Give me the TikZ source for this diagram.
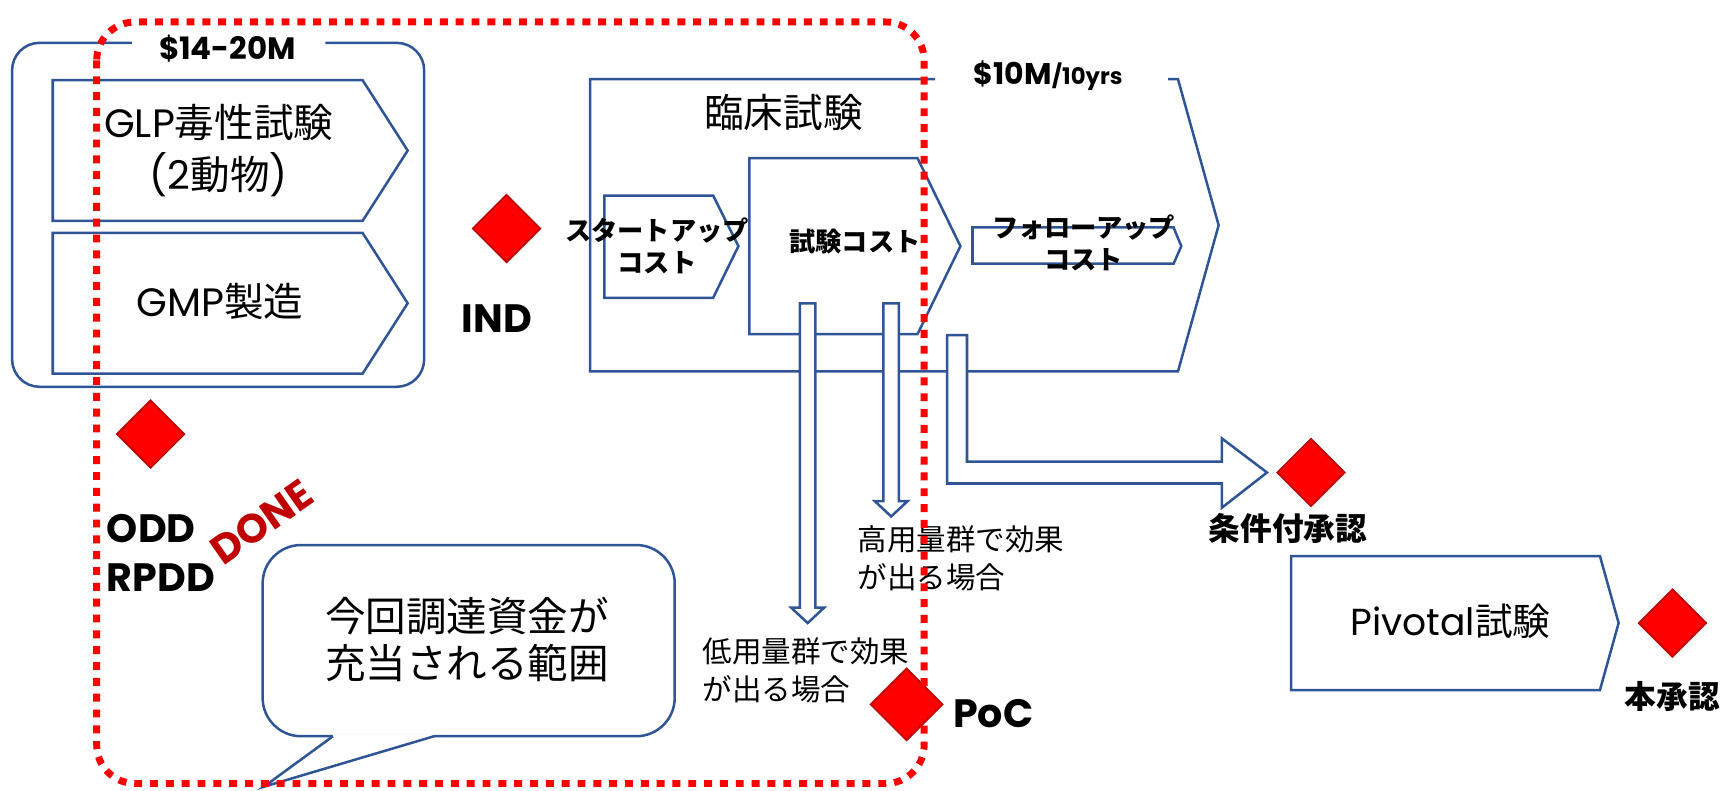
\documentclass[tikz,border=0pt]{standalone}
\usepackage{fontspec}
\newfontfamily\jp{Noto Sans CJK JP}
\newfontfamily\pop{Poppins}
\usetikzlibrary{shapes.geometric}
\definecolor{bl}{HTML}{2F5597}
\definecolor{dred}{HTML}{C00000}
\tikzset{
  blueline/.style={draw=bl, line width=1.3pt, line join=miter},
  hollow/.style={draw=bl, line width=1.3pt, fill=white, line join=miter},
  milestone/.style={diamond, fill=red, draw=dred, line width=0.9pt, minimum width=1.24cm, minimum height=1.24cm, inner sep=0pt},
  reddot/.style={draw=red, line width=3.6pt, dash pattern=on 4.1pt off 4.1pt},
  bigtxt/.style={inner sep=0pt, font={\jp\fontsize{20.5pt}{25pt}\selectfont}, align=center},
  smallbold/.style={inner sep=0pt, font={\jp\bfseries\fontsize{13.6pt}{16.4pt}\selectfont}, align=center},
  latbold/.style={inner sep=0pt, font={\pop\bfseries\fontsize{20.5pt}{25.5pt}\selectfont}, align=left},
  note/.style={inner sep=0pt, font={\jp\fontsize{15.3pt}{19.3pt}\selectfont}, align=left},
  approval/.style={inner sep=0pt, font={\jp\bfseries\fontsize{16.4pt}{19pt}\selectfont}}
}
\begin{document}
\begin{tikzpicture}[x=0.02cm, y=-0.02cm]
\useasboundingbox (0,0) rectangle (1568,719);

% outer preclinical box with gap for label
\draw[blueline, rounded corners=0.5cm] (120,39) -- (11,39) -- (11,352) -- (386,352) -- (386,39) -- (296,39);
% GLP / GMP pentagons
\draw[blueline] (48,73) -- (330,73) -- (371,137) -- (330,201) -- (48,201) -- cycle;
\draw[blueline] (48,212) -- (330,212) -- (371,276) -- (330,340) -- (48,340) -- cycle;

% clinical trial big pentagon (gap for label)
\draw[blueline] (851,72) -- (537,72) -- (537,338) -- (1072,338) -- (1109,205) -- (1072,72) -- (1063,72);
% startup, test cost, follow-up
\draw[blueline] (550,178) -- (649,178) -- (672,224) -- (649,271) -- (550,271) -- cycle;
\draw[blueline] (682,144) -- (835,144) -- (874,224) -- (835,304) -- (682,304) -- cycle;
\draw[blueline] (885,207) -- (1068,207) -- (1075,224) -- (1068,240) -- (885,240) -- cycle;
% pivotal
\draw[blueline] (1175,506) -- (1456,506) -- (1473,567) -- (1456,628) -- (1175,628) -- cycle;

% block arrows
\draw[hollow] (728,276) -- (742,276) -- (742,553) -- (750,553) -- (735,567) -- (720,553) -- (728,553) -- cycle;
\draw[hollow] (804,276) -- (818,276) -- (818,456) -- (826,456) -- (811,470) -- (796,456) -- (804,456) -- cycle;
\draw[hollow] (862,305) -- (880,305) -- (880,420) -- (1112,420) -- (1112,399) -- (1153,430) -- (1112,462) -- (1112,440) -- (862,440) -- cycle;

% speech bubble
\draw[blueline, fill=white, rounded corners=0.7cm] (239,496) rectangle (614,670);
\fill[white] (303,668.3) -- (395,668.3) -- (395,670) -- (240,716) -- (303,670) -- cycle;
\draw[blueline] (303,670) -- (240,716) -- (395,670);

% milestones
\node[milestone] (ind) at (461,208) {};
\node[milestone] (odd) at (137,395) {};
\node[milestone] (cond) at (1193,430) {};
\node[milestone] (full) at (1522,567) {};
\node[milestone, minimum width=1.32cm, minimum height=1.32cm] (poc) at (825,641) {};

% texts
\node[inner sep=0pt, anchor=base, font={\pop\bfseries\fontsize{16pt}{19pt}\selectfont}] (cost1) at (207,54) {\$14-20M};
\node[bigtxt, font={\jp\fontsize{20.5pt}{26.5pt}\selectfont}] (glp) at (199,137) {{\pop GLP}毒性試験\\{\pop(2}動物{\pop)}};
\node[bigtxt, anchor=base] (gmp) at (200,288) {{\pop GMP}製造};
\node[bigtxt] (clin) at (713,102) {臨床試験};
\node[inner sep=0pt, anchor=base west, font={\pop\bfseries}] (cost2) at (886,77) {{\fontsize{15.5pt}{18pt}\selectfont\$10M}{\fontsize{11.8pt}{14pt}\selectfont/10yrs}};
\node[smallbold] (startup) at (598,224) {スタートアップ\\コスト};
\node[smallbold] (test) at (778,220) {試験コスト};
\node[smallbold] (follow) at (986,221) {フォローアップ\\コスト};
\node[latbold, anchor=base west] (indl) at (420,303) {IND};
\node[latbold, anchor=west] (oddl) at (97,503) {ODD\\RPDD};
\node[inner sep=0pt, rotate=35, text=dred, font={\pop\bfseries\fontsize{21pt}{24pt}\selectfont}] (done) at (238,475) {DONE};
\node[bigtxt, font={\jp\fontsize{21pt}{24.4pt}\selectfont}] (bubble) at (425,582) {今回調達資金が\\充当される範囲};
\node[note, anchor=west] (high) at (780,508) {高用量群で効果\\が出る場合};
\node[note, anchor=west] (low) at (639,610) {低用量群で効果\\が出る場合};
\node[latbold, anchor=base west] (pocl) at (867,662) {PoC};
\node[approval] (condl) at (1172,481) {条件付承認};
\node[approval] (fulll) at (1522,634) {本承認};
\node[bigtxt, anchor=base, font={\jp\fontsize{19.5pt}{22pt}\selectfont}] (piv) at (1320,578) {{\pop Pivotal}試験};

% funding scope (red dotted)
\draw[reddot, rounded corners=0.7cm] (88,20) rectangle (841,713);
\end{tikzpicture}
\end{document}
